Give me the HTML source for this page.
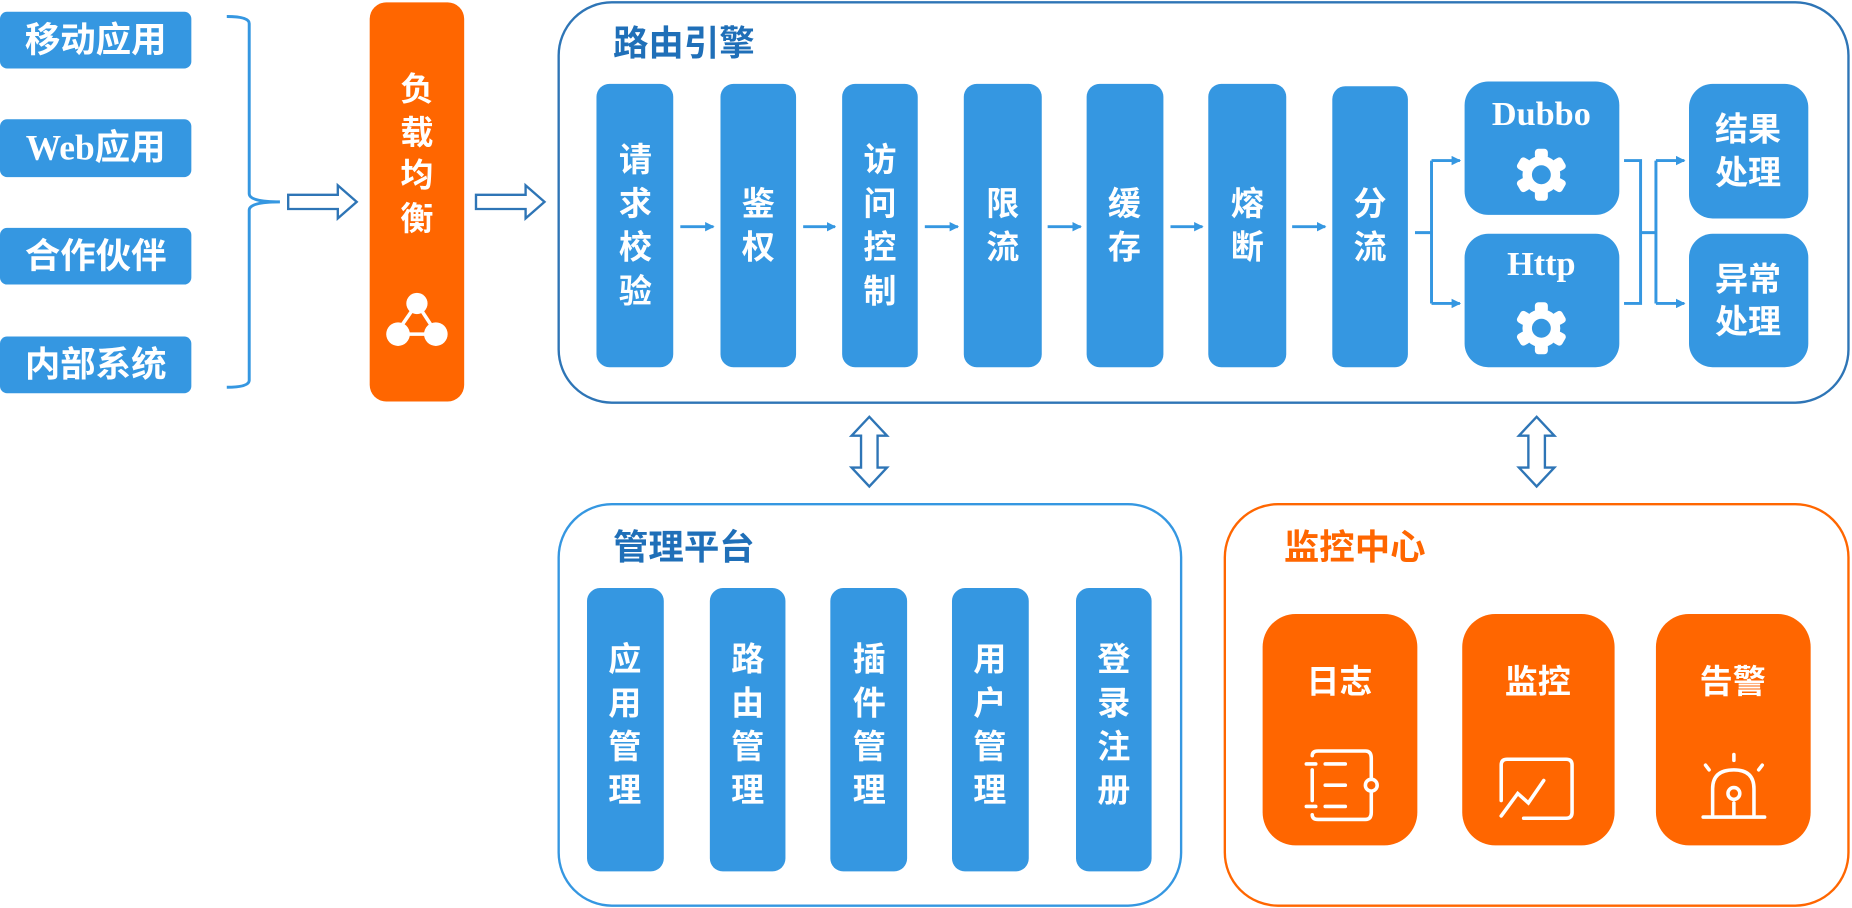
<!DOCTYPE html>
<html><head><meta charset="utf-8"><style>
html,body{margin:0;padding:0;background:#fff;}
svg{display:block;}
text{font-family:"Liberation Sans","Noto Sans CJK SC",sans-serif;}
.w{fill:#fff;font-size:28px;font-weight:bold;text-anchor:middle;}
.s{font-family:"Liberation Serif","Noto Serif CJK SC",serif;}
</style></head><body>
<svg width="1852" height="908" viewBox="0 0 1568 769" preserveAspectRatio="none" xmlns="http://www.w3.org/2000/svg">
<defs>
<g id="gear">
<circle r="16" fill="#fff"/>
<g fill="#fff">
<rect x="-5.5" y="-22" width="11" height="9" rx="3"/>
<rect x="-5.5" y="-22" width="11" height="9" rx="3" transform="rotate(60)"/>
<rect x="-5.5" y="-22" width="11" height="9" rx="3" transform="rotate(120)"/>
<rect x="-5.5" y="-22" width="11" height="9" rx="3" transform="rotate(180)"/>
<rect x="-5.5" y="-22" width="11" height="9" rx="3" transform="rotate(240)"/>
<rect x="-5.5" y="-22" width="11" height="9" rx="3" transform="rotate(300)"/>
</g>
<circle r="8" fill="#3597e1"/>
</g>
<marker id="ah" markerWidth="8" markerHeight="8" refX="7" refY="4" orient="auto" markerUnits="userSpaceOnUse"><path d="M0,0 L8,4 L0,8 Z" fill="#3597e1"/></marker>
</defs>

<g fill="#3597e1">
<rect x="0" y="10" width="162" height="48" rx="6"/>
<rect x="0" y="101" width="162" height="49" rx="6"/>
<rect x="0" y="193" width="162" height="48" rx="6"/>
<rect x="0" y="285" width="162" height="48" rx="6"/>
</g>
<text class="w" x="81" y="44" style="font-size:30px">移动应用</text>
<text class="w" x="81" y="135" style="font-size:30px"><tspan class="s">Web</tspan>应用</text>
<text class="w" x="81" y="227" style="font-size:30px">合作伙伴</text>
<text class="w" x="81" y="319" style="font-size:30px">内部系统</text>

<path d="M192,14 Q211,14 211,20 L211,164 Q211,171 237,171 M237,171 Q211,171 211,178 L211,322 Q211,328 192,328" fill="none" stroke="#3597e1" stroke-width="2.5"/>

<path d="M244,165 L286,165 L286,157 L302,171 L286,185 L286,177 L244,177 Z" fill="#fff" stroke="#2e75b6" stroke-width="2"/>
<path d="M403,165 L445,165 L445,157 L461,171 L445,185 L445,177 L403,177 Z" fill="#fff" stroke="#2e75b6" stroke-width="2"/>

<rect x="313" y="2" width="80" height="338" rx="14" fill="#ff6600"/>
<text class="w" x="353" y="85">负</text><text class="w" x="353" y="122">载</text><text class="w" x="353" y="158">均</text><text class="w" x="353" y="195">衡</text>
<g stroke="#fff" stroke-width="3" fill="#fff">
<line x1="353" y1="257" x2="335" y2="283"/><line x1="353" y1="257" x2="370" y2="283"/><line x1="335" y1="283" x2="370" y2="283"/>
<circle cx="353" cy="257" r="9" stroke="none"/><circle cx="337" cy="283" r="10" stroke="none"/><circle cx="369" cy="283" r="10" stroke="none"/>
</g>

<rect x="473" y="2" width="1092" height="339" rx="45" fill="none" stroke="#2e75b6" stroke-width="2"/>
<text x="519" y="47" style="font-size:30px;font-weight:bold;fill:#1f6fb8">路由引擎</text>
<g fill="#3597e1">
<rect x="505" y="71" width="65" height="240" rx="11"/>
<rect x="610" y="71" width="64" height="240" rx="11"/>
<rect x="713" y="71" width="64" height="240" rx="11"/>
<rect x="816" y="71" width="66" height="240" rx="11"/>
<rect x="920" y="71" width="65" height="240" rx="11"/>
<rect x="1023" y="71" width="66" height="240" rx="11"/>
<rect x="1128" y="73" width="64" height="238" rx="11"/>
<rect x="1240" y="69" width="131" height="113" rx="20"/>
<rect x="1240" y="198" width="131" height="113" rx="20"/>
<rect x="1430" y="71" width="101" height="114" rx="20"/>
<rect x="1430" y="198" width="101" height="113" rx="20"/>
</g>
<text class="w" x="538" y="145">请</text><text class="w" x="538" y="182">求</text><text class="w" x="538" y="219">校</text><text class="w" x="538" y="256">验</text>
<text class="w" x="642" y="182">鉴</text><text class="w" x="642" y="219">权</text>
<text class="w" x="745" y="145">访</text><text class="w" x="745" y="182">问</text><text class="w" x="745" y="219">控</text><text class="w" x="745" y="256">制</text>
<text class="w" x="849" y="182">限</text><text class="w" x="849" y="219">流</text>
<text class="w" x="952" y="182">缓</text><text class="w" x="952" y="219">存</text>
<text class="w" x="1056" y="182">熔</text><text class="w" x="1056" y="219">断</text>
<text class="w" x="1160" y="182">分</text><text class="w" x="1160" y="219">流</text>
<text class="w" x="1480" y="119">结果</text><text class="w" x="1480" y="156">处理</text>
<text class="w" x="1480" y="246">异常</text><text class="w" x="1480" y="282">处理</text>
<text class="w s" x="1305" y="106" style="font-size:29px">Dubbo</text>
<text class="w s" x="1305" y="233" style="font-size:29px">Http</text>
<use href="#gear" x="1305" y="148"/>
<use href="#gear" x="1305" y="278"/>

<g stroke="#3597e1" stroke-width="2.5" fill="none">
<line x1="576" y1="192" x2="604" y2="192" marker-end="url(#ah)"/>
<line x1="680" y1="192" x2="707" y2="192" marker-end="url(#ah)"/>
<line x1="783" y1="192" x2="811" y2="192" marker-end="url(#ah)"/>
<line x1="887" y1="192" x2="915" y2="192" marker-end="url(#ah)"/>
<line x1="991" y1="192" x2="1018" y2="192" marker-end="url(#ah)"/>
<line x1="1094" y1="192" x2="1122" y2="192" marker-end="url(#ah)"/>
<path d="M1198,197 L1212,197 M1212,136 L1212,257"/>
<line x1="1212" y1="136" x2="1236" y2="136" marker-end="url(#ah)"/>
<line x1="1212" y1="257" x2="1236" y2="257" marker-end="url(#ah)"/>
<path d="M1375,136 L1389,136 L1389,257 L1375,257 M1389,197 L1402,197 M1402,136 L1402,257"/>
<line x1="1402" y1="136" x2="1426" y2="136" marker-end="url(#ah)"/>
<line x1="1402" y1="257" x2="1426" y2="257" marker-end="url(#ah)"/>
</g>

<path d="M736,353 L751,369 L743,369 L743,396 L751,396 L736,412 L721,396 L729,396 L729,369 L721,369 Z" fill="#fff" stroke="#2e75b6" stroke-width="2"/>
<path d="M1301,353 L1316,369 L1308,369 L1308,396 L1316,396 L1301,412 L1286,396 L1294,396 L1294,369 L1286,369 Z" fill="#fff" stroke="#2e75b6" stroke-width="2"/>

<rect x="473" y="427" width="527" height="340" rx="45" fill="none" stroke="#3597e1" stroke-width="2"/>
<text x="519" y="474" style="font-size:30px;font-weight:bold;fill:#1f6fb8">管理平台</text>
<g fill="#3597e1">
<rect x="497" y="498" width="65" height="240" rx="11"/>
<rect x="601" y="498" width="64" height="240" rx="11"/>
<rect x="703" y="498" width="65" height="240" rx="11"/>
<rect x="806" y="498" width="65" height="240" rx="11"/>
<rect x="911" y="498" width="64" height="240" rx="11"/>
</g>
<text class="w" x="529" y="568">应</text><text class="w" x="529" y="605">用</text><text class="w" x="529" y="642">管</text><text class="w" x="529" y="679">理</text>
<text class="w" x="633" y="568">路</text><text class="w" x="633" y="605">由</text><text class="w" x="633" y="642">管</text><text class="w" x="633" y="679">理</text>
<text class="w" x="736" y="568">插</text><text class="w" x="736" y="605">件</text><text class="w" x="736" y="642">管</text><text class="w" x="736" y="679">理</text>
<text class="w" x="838" y="568">用</text><text class="w" x="838" y="605">户</text><text class="w" x="838" y="642">管</text><text class="w" x="838" y="679">理</text>
<text class="w" x="943" y="568">登</text><text class="w" x="943" y="605">录</text><text class="w" x="943" y="642">注</text><text class="w" x="943" y="679">册</text>

<rect x="1037" y="427" width="528" height="340" rx="45" fill="none" stroke="#ff6600" stroke-width="2"/>
<text x="1087" y="474" style="font-size:30px;font-weight:bold;fill:#ff6600">监控中心</text>
<g fill="#ff6600">
<rect x="1069" y="520" width="131" height="196" rx="28"/>
<rect x="1238" y="520" width="129" height="196" rx="28"/>
<rect x="1402" y="520" width="131" height="196" rx="28"/>
</g>
<text class="w" x="1134" y="587">日志</text>
<text class="w" x="1302" y="587">监控</text>
<text class="w" x="1467" y="587">告警</text>
<g stroke="#fff" stroke-width="3" fill="none" stroke-linecap="round">
<path d="M1111,640 Q1111,636 1116,636 L1156,636 Q1161,636 1161,642 L1161,688 Q1161,694 1156,694 L1116,694 Q1111,694 1111,690"/>
<line x1="1111" y1="652" x2="1111" y2="678"/>
<line x1="1106" y1="647" x2="1114" y2="647"/><line x1="1106" y1="683" x2="1114" y2="683"/>
<line x1="1122" y1="647" x2="1139" y2="647"/><line x1="1122" y1="665" x2="1139" y2="665"/><line x1="1122" y1="683" x2="1139" y2="683"/>
<circle cx="1161" cy="665" r="5" fill="#ff6600"/>
<path d="M1271,678 L1271,648 Q1271,643 1276,643 L1326,643 Q1331,643 1331,648 L1331,688 Q1331,693 1326,693 L1290,693"/>
<path d="M1271,691 L1285,672 L1294,680 L1307,661"/>
<path d="M1450,690 L1450,668 Q1450,652 1468,652 Q1485,652 1485,668 L1485,690"/>
<line x1="1442" y1="692" x2="1494" y2="692"/>
<circle cx="1468" cy="672" r="5"/>
<line x1="1468" y1="680" x2="1468" y2="690"/>
<line x1="1468" y1="639" x2="1468" y2="644"/>
<line x1="1444" y1="648" x2="1447" y2="652"/><line x1="1492" y1="648" x2="1489" y2="652"/>
</g>
</svg>
</body></html>
